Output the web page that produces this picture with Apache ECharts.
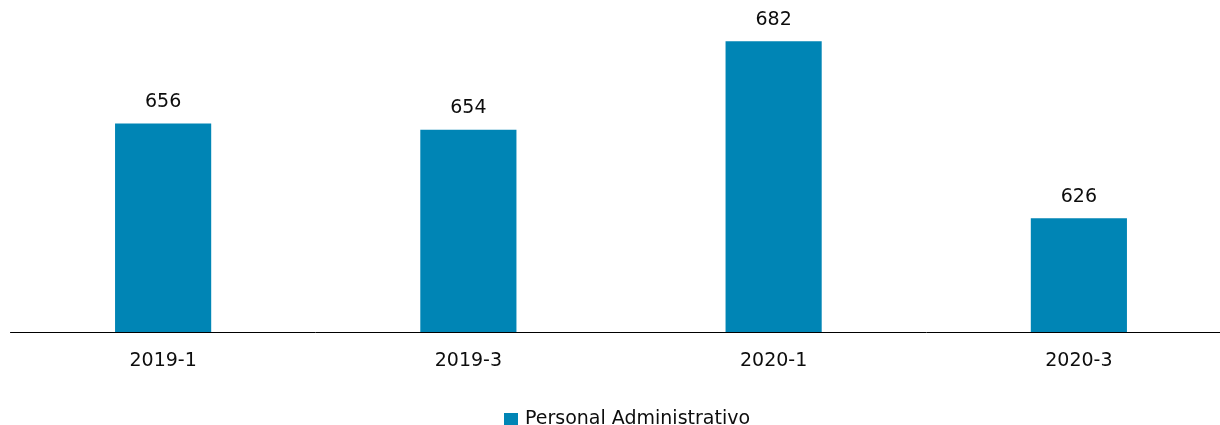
<!DOCTYPE html>
<html>
<head>
<meta charset="utf-8">
<script src="https://cdn.jsdelivr.net/npm/echarts@6/dist/echarts.min.js"></script>
<style>html,body{margin:0;padding:0;background:#fff;overflow:hidden;width:1220px;height:425px;}#c{width:1240px;height:425px;}</style>
</head>
<body>
<div id="c"></div>
<script>
const categories = ['2019-1', '2019-3', '2020-1', '2020-3'];
const seriesName = 'Personal Administrativo';
const values = [656, 654, 682, 626];

const chart = echarts.init(document.getElementById('c'), null, {renderer: 'canvas'});
const font = 'DejaVu Sans';
chart.setOption({
  animation: false,
  backgroundColor: '#ffffff',
  grid: {left: 10.5, top: 16, width: 1221, height: 316, containLabel: false},
  legend: {
    left: 499, top: 405,
    itemWidth: 14, itemHeight: 13, itemGap: 10,
    icon: 'rect',
    textStyle: {fontFamily: font, fontSize: 19, color: '#0d0d0d', padding: [0,0,0,2]},
    data: [seriesName]
  },
  xAxis: {
    type: 'category',
    data: categories,
    axisLine: {lineStyle: {color: '#000000', width: 1}},
    axisTick: {show: false},
    axisLabel: {fontFamily: font, fontSize: 19, color: '#0d0d0d', margin: 20}
  },
  yAxis: {
    type: 'value', min: 590, max: 690,
    show: false, splitLine: {show: false}
  },
  series: [{
    name: seriesName,
    type: 'bar',
    data: values,
    barWidth: '31.5%',
    itemStyle: {color: '#0085B5'},
    label: {show: true, position: 'top', distance: 12, fontFamily: font, fontSize: 19, color: '#0d0d0d'}
  }]
});
</script>
</body>
</html>
